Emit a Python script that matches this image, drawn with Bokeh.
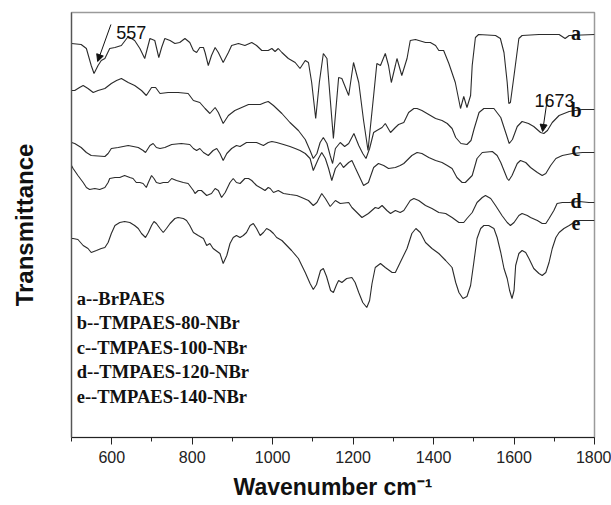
from bokeh.plotting import figure
from bokeh.models import Range1d, FixedTicker, Label, Arrow, NormalHead
from bokeh.embed import file_html
from bokeh.resources import INLINE

# ---------------- data ----------------
a_wn = [500,524,537,549,556,566,574,583,595,608,624,641,657,670,682,695,707,717,724,732,
        745,757,769,782,794,803,811,819,828,832,840,848,857,865,877,890,898,915,931,948,
        960,973,989,998,1006,1014,1023,1039,1056,1068,1081,1089,1097,1107,1116,1126,1135,1143,1151,1164,
        1172,1189,1201,1214,1226,1237,1251,1259,1268,1280,1288,1295,1305,1309,1321,1334,1342,1355,1380,1392,
        1405,1413,1425,1438,1454,1467,1475,1483,1492,1496,1504,1512,1554,1566,1575,1583,1587,1591,1600,1612,
        1620,1662,1712,1727,1737,1800]
a_t = [394,393,389,372,364,372,377,379,389,390,392,401,397,389,379,399,397,380,390,399,
       397,394,395,399,395,387,385,390,390,385,372,382,390,385,375,385,392,394,392,395,
       392,387,387,389,386,389,385,379,375,369,377,375,355,319,355,384,379,339,299,360,
       359,342,375,355,317,287,342,374,372,384,372,355,372,379,362,379,397,398,395,395,
       392,387,387,374,355,329,341,330,342,372,400,403,402,399,385,355,334,335,362,399,
       402,403,403,399,402,403]

b_wn = [500,508,520,529,541,554,566,583,599,612,624,641,657,674,686,699,709,720,740,765,
        790,803,819,832,844,857,865,877,890,906,923,940,969,981,989,1002,1023,1043,1064,1081,
        1093,1101,1110,1118,1126,1135,1143,1149,1156,1168,1179,1189,1202,1214,1224,1232,1241,1251,1259,1272,
        1280,1293,1305,1313,1326,1338,1351,1359,1371,1388,1405,1421,1434,1446,1455,1468,1483,1493,1501,1513,
        1525,1550,1567,1580,1588,1596,1608,1620,1636,1649,1666,1674,1683,1695,1712,1737,1769,1800]
b_t = [347,347,350,352,349,345,347,349,354,357,359,355,352,347,342,350,350,344,345,345,
       344,337,335,329,324,330,325,314,322,327,330,333,333,335,336,332,324,315,307,298,
       287,279,284,295,300,294,282,274,289,295,291,294,304,292,284,279,289,305,307,310,
       314,305,310,313,315,325,329,329,327,323,319,317,314,309,300,294,293,297,309,325,
       329,329,320,304,294,298,311,316,314,311,305,304,307,315,322,326,328,328]

c_wn = [500,508,524,537,549,583,591,599,616,641,666,678,684,695,703,711,720,732,749,773,
        794,803,811,819,828,840,852,861,869,877,886,898,910,919,935,948,960,977,989,998,
        1010,1027,1043,1056,1068,1081,1093,1101,1114,1122,1131,1139,1147,1156,1168,1176,1189,1197,1205,1226,
        1238,1251,1263,1276,1288,1305,1317,1326,1346,1359,1371,1388,1405,1421,1434,1446,1458,1471,1479,1496,
        1508,1521,1546,1558,1567,1575,1583,1587,1595,1608,1616,1629,1641,1658,1670,1679,1691,1704,1720,1745,
        1770,1800]
c_t = [295,294,290,285,282,281,284,289,290,292,290,287,285,292,294,290,289,290,293,294,
       293,289,287,289,285,282,287,289,284,277,284,289,292,291,295,295,295,292,295,296,
       295,293,291,289,287,284,279,267,279,285,279,269,257,269,275,270,275,277,270,252,
       255,270,274,272,269,270,272,274,282,285,284,280,277,275,272,269,260,255,255,262,
       279,285,286,282,275,267,259,257,262,274,277,275,270,265,262,264,272,279,282,284,
       285,285]

d_wn = [500,504,516,529,537,545,558,570,583,591,595,608,620,632,645,653,661,670,678,686,
        691,699,705,711,720,728,740,749,761,778,790,803,807,815,823,836,848,857,865,873,
        882,894,902,910,919,931,940,948,960,973,981,989,994,1002,1014,1027,1043,1060,1072,1089,
        1101,1110,1122,1131,1143,1156,1168,1189,1197,1222,1238,1255,1263,1272,1284,1293,1305,1317,1326,1342,
        1351,1363,1380,1396,1413,1430,1446,1463,1475,1483,1496,1508,1521,1529,1542,1554,1570,1583,1591,1600,
        1612,1620,1633,1641,1658,1670,1679,1687,1699,1707,1720,1737,1762,1786,1800]
d_t = [272,269,262,255,250,248,249,248,250,255,259,260,260,262,260,259,255,255,254,250,
       255,262,259,255,254,255,255,259,257,255,254,247,244,247,247,242,244,249,247,240,
       245,255,259,255,254,259,259,257,252,249,247,250,249,245,247,244,243,242,240,237,
       232,235,244,239,231,237,234,235,230,220,224,230,229,232,227,224,227,225,227,237,
       239,237,232,229,225,224,220,215,215,219,225,235,240,242,239,232,222,215,212,215,
       222,224,222,220,217,214,214,219,227,234,235,235,236,235,235]

e_wn = [500,504,516,529,541,549,562,574,583,591,599,608,620,632,645,657,666,674,684,691,
        699,705,711,720,728,736,745,757,765,778,786,794,803,811,815,828,836,844,852,869,
        877,886,894,902,910,919,927,935,944,952,960,969,977,985,994,1002,1010,1023,1035,1047,
        1064,1081,1093,1101,1109,1119,1126,1134,1144,1151,1159,1164,1172,1184,1197,1205,1214,1224,1234,1241,
        1247,1255,1268,1280,1297,1305,1317,1334,1346,1356,1367,1380,1396,1413,1430,1446,1455,1463,1473,1483,
        1492,1500,1508,1517,1525,1537,1550,1558,1567,1575,1583,1589,1595,1600,1604,1612,1620,1629,1637,1649,
        1662,1670,1679,1687,1695,1704,1712,1724,1737,1749,1762,1800]
e_t = [199,199,198,192,189,185,187,189,190,195,204,212,215,216,215,212,209,204,200,205,
       212,216,214,209,205,209,214,219,220,219,217,212,205,203,202,199,192,194,189,184,
       174,182,194,200,202,200,202,205,212,214,209,202,205,209,207,204,200,197,192,187,
       179,165,154,148,153,167,169,161,147,145,153,157,155,159,160,155,145,135,130,137,
       154,170,174,170,165,165,175,189,204,209,205,195,189,184,177,170,155,145,139,141,
       152,175,199,209,212,212,209,200,185,169,159,147,139,147,172,184,187,185,179,169,
       164,162,165,175,189,200,205,209,212,215,217,217]

series_wn = [a_wn, b_wn, c_wn, d_wn, e_wn]
series_t = [a_t, b_t, c_t, d_t, e_t]
curve_letters = ["a", "b", "c", "d", "e"]
legend_lines = ["a--BrPAES", "b--TMPAES-80-NBr", "c--TMPAES-100-NBr",
                "d--TMPAES-120-NBr", "e--TMPAES-140-NBr"]
major_ticks = [600, 800, 1000, 1200, 1400, 1600, 1800]
minor_ticks = [500, 700, 900, 1100, 1300, 1500, 1700]
peak_labels = ["557", "1673"]
x_title = "Wavenumber cm\u207b\u00b9"
y_title = "Transmittance"

# ---------------- figure ----------------
p = figure(width=611, height=505, output_backend="svg", toolbar_location=None,
           x_range=Range1d(500, 1800), y_range=Range1d(0, 425),
           min_border_left=71, min_border_right=17, min_border_top=12, min_border_bottom=68)
p.background_fill_color = "white"
p.border_fill_color = "white"
p.grid.visible = False
p.outline_line_color = "#9a9a9a"
p.outline_line_width = 1.5

for wn, t in zip(series_wn, series_t):
    p.line(wn, t, line_color="#2b2b2b", line_width=1.1)

# x axis
xa = p.xaxis[0]
xa.ticker = FixedTicker(ticks=major_ticks, minor_ticks=minor_ticks)
xa.major_tick_out = 7
xa.major_tick_in = 0
xa.minor_tick_out = 4
xa.minor_tick_in = 0
xa.axis_line_color = "#222222"
xa.major_tick_line_color = "#222222"
xa.minor_tick_line_color = "#222222"
xa.major_label_text_font = "Liberation Sans"
xa.major_label_text_font_size = "16px"
xa.major_label_text_color = "#222222"
xa.major_label_standoff = 6
xa.axis_label = x_title
xa.axis_label_text_font = "Liberation Sans"
xa.axis_label_text_font_style = "bold"
xa.axis_label_text_font_size = "23px"
xa.axis_label_text_color = "#111111"
xa.axis_label_standoff = 8

# y axis
ya = p.yaxis[0]
ya.ticker = FixedTicker(ticks=[])
ya.major_tick_line_color = None
ya.minor_tick_line_color = None
ya.major_label_text_font_size = "0px"
ya.axis_line_color = "#555555"
ya.axis_line_width = 1.2
ya.axis_label = y_title
ya.axis_label_text_font = "Liberation Sans"
ya.axis_label_text_font_style = "bold"
ya.axis_label_text_font_size = "24px"
ya.axis_label_text_color = "#111111"
ya.axis_label_standoff = 34

# curve letters
letter_y = [405, 328, 289, 237, 215]
for s, y in zip(curve_letters, letter_y):
    p.add_layout(Label(x=1754, y=y, text=s, text_align="center", text_baseline="alphabetic",
                       text_font="Liberation Serif", text_font_style="bold",
                       text_font_size="20px", text_color="#111111"))

# legend text block
leg_y = [139, 114.5, 90, 65.5, 41]
for s, y in zip(legend_lines, leg_y):
    p.add_layout(Label(x=513, y=y, text=s, text_baseline="alphabetic",
                       text_font="Liberation Serif", text_font_style="bold",
                       text_font_size="18.5px", text_color="#111111"))

# peak annotations
p.add_layout(Label(x=611, y=405, text=peak_labels[0], text_baseline="alphabetic",
                   text_font="Liberation Sans", text_font_size="18px", text_color="#111111"))
p.add_layout(Label(x=1651, y=337, text=peak_labels[1], text_baseline="alphabetic",
                   text_font="Liberation Sans", text_font_size="18px", text_color="#111111"))
p.add_layout(Arrow(x_start=598, y_start=413, x_end=565, y_end=376, line_width=1,
                   line_color="#111111",
                   end=NormalHead(size=7, line_color="#111111", fill_color="#111111")))
p.add_layout(Arrow(x_start=1684, y_start=342, x_end=1671, y_end=306, line_width=1,
                   line_color="#111111",
                   end=NormalHead(size=7, line_color="#111111", fill_color="#111111")))

open("out.html", "w").write(file_html(p, INLINE))
